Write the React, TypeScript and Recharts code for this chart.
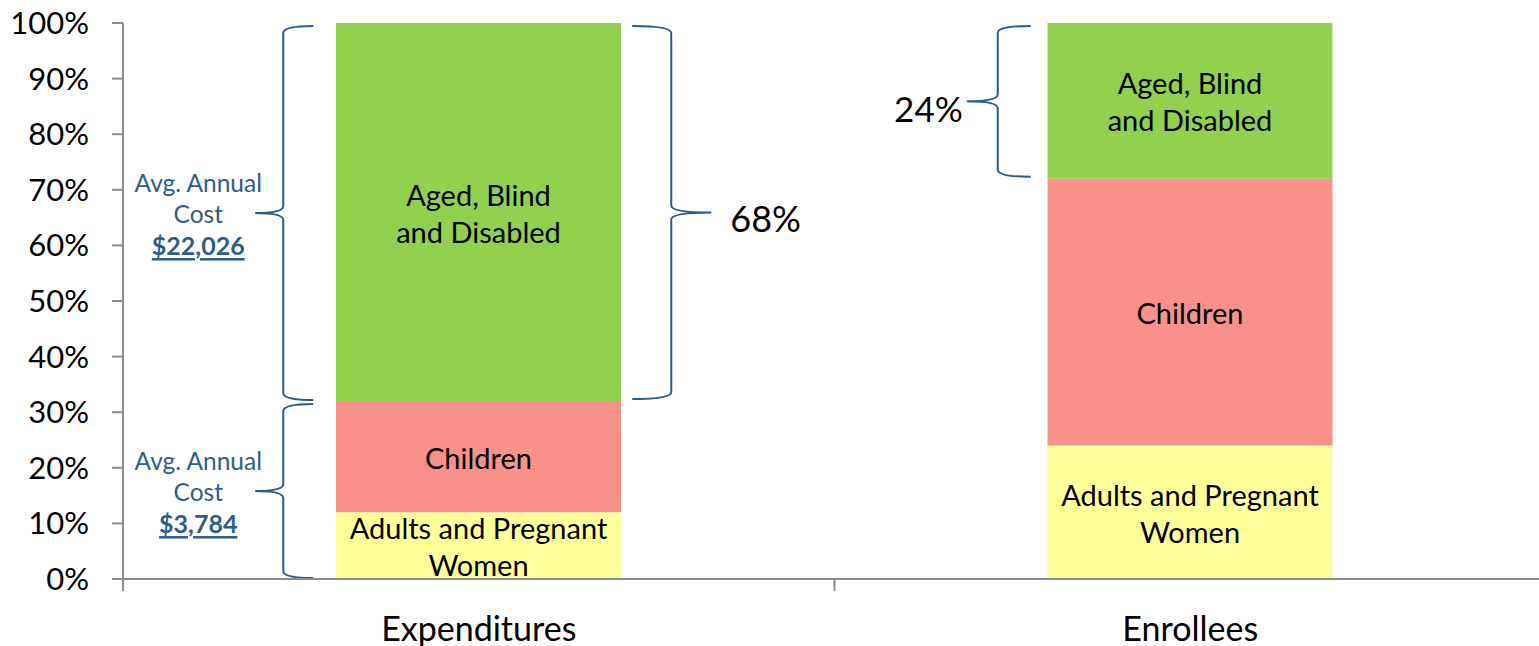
import React from "react";
import { BarChart, Bar, XAxis, YAxis, LabelList, ReferenceArea } from "recharts";

// Share of spending vs. share of enrollment, by eligibility group (percent)
const categories = ["Expenditures", "Enrollees"];
const adultsShare = [12, 24];
const childrenShare = [20, 48];
const agedBlindDisabledShare = [68, 28];
const percentTicks = [0, 10, 20, 30, 40, 50, 60, 70, 80, 90, 100];

// Text written inside each stacked segment
const adultsLabel = ["Adults and Pregnant", "Women"];
const childrenLabel = ["Children"];
const agedBlindDisabledLabel = ["Aged, Blind", "and Disabled"];

// Average annual cost brackets on the expenditures bar
const costCategory = "Expenditures";
const costRangesFrom = [32, 0];
const costRangesTo = [100, 32];
const costValues = ["$22,026", "$3,784"];

// Share brackets around the aged, blind and disabled segments
const shareCategories = ["Expenditures", "Enrollees"];
const shareFrom = [32, 72];
const shareTo = [100, 100];
const shareLabels = ["68%", "24%"];
const shareSides = ["right", "left"];

const data = categories.map((category, i) => ({
  category,
  adults: adultsShare[i],
  children: childrenShare[i],
  abd: agedBlindDisabledShare[i],
}));

const FONT = "Lato, 'Open Sans', 'DejaVu Sans', sans-serif";
const AXIS = "#8c8c8c";
const BRACE = "#2a5b8f";
const NOTE = "#2d5d8f";
const BAR_SIZE = 285;

const bracePath = (xe: number, xs: number, xt: number, yt: number, yb: number) => {
  const ym = (yt + yb) / 2;
  const r = 7;
  return `M${xe},${yt} Q${xs},${yt} ${xs},${yt + r} L${xs},${ym - r} Q${xs},${ym} ${xt},${ym} Q${xs},${ym} ${xs},${ym + r} L${xs},${yb - r} Q${xs},${yb} ${xe},${yb}`;
};

const segmentLabel = (lines: string[]) => (props: any) => {
  const x = Number(props.x);
  const y = Number(props.y);
  const w = Number(props.width);
  const h = Number(props.height);
  const cx = x + w / 2;
  const cy = y + h / 2;
  const lh = 37;
  const start = cy - ((lines.length - 1) * lh) / 2;
  return (
    <text
      x={cx}
      textAnchor="middle"
      dominantBaseline="central"
      fontFamily={FONT}
      fontSize={29}
      fill="#000"
    >
      {lines.map((line, i) => (
        <tspan key={i} x={cx} y={start + i * lh}>
          {line}
        </tspan>
      ))}
    </text>
  );
};

const costBrace = (cost: string) => (props: any) => {
  const x = Number(props.x);
  const y = Number(props.y);
  const w = Number(props.width);
  const h = Number(props.height);
  const cx = x + w / 2;
  const xe = cx - BAR_SIZE / 2 - 23;
  const xs = xe - 30;
  const xt = xs - 28;
  const yt = y + 3;
  const yb = y + h - 1;
  const ym = (yt + yb) / 2;
  const tx = xt - 57;
  return (
    <g>
      <path d={bracePath(xe, xs, xt, yt, yb)} fill="none" stroke={BRACE} strokeWidth={2} />
      <text
        x={tx}
        textAnchor="middle"
        dominantBaseline="central"
        fontFamily={FONT}
        fontSize={24.5}
        fill={NOTE}
      >
        <tspan x={tx} y={ym - 31}>Avg. Annual</tspan>
        <tspan x={tx} y={ym}>Cost</tspan>
        <tspan
          x={tx}
          y={ym + 32}
          fontWeight={700}
          fontSize={25}
          style={{ textDecoration: "underline" }}
        >
          {cost}
        </tspan>
      </text>
    </g>
  );
};

const shareBrace = (label: string, side: string) => (props: any) => {
  const x = Number(props.x);
  const y = Number(props.y);
  const w = Number(props.width);
  const h = Number(props.height);
  const cx = x + w / 2;
  const yt = y + 3;
  const yb = y + h - 2;
  const ym = (yt + yb) / 2;
  if (side === "right") {
    const xe = cx + BAR_SIZE / 2 + 11;
    const xs = xe + 39;
    const xt = xs + 40;
    return (
      <g>
        <path d={bracePath(xe, xs, xt, yt, yb)} fill="none" stroke={BRACE} strokeWidth={2} />
        <text x={xt + 19} y={ym + 5} dominantBaseline="central" fontFamily={FONT} fontSize={36} fill="#000">
          {label}
        </text>
      </g>
    );
  }
  const xe = cx - BAR_SIZE / 2 - 17;
  const xs = xe - 33;
  const xt = xs - 31;
  return (
    <g>
      <path d={bracePath(xe, xs, xt, yt, yb)} fill="none" stroke={BRACE} strokeWidth={2} />
      <text
        x={xt - 4}
        y={ym + 7}
        textAnchor="end"
        dominantBaseline="central"
        fontFamily={FONT}
        fontSize={35}
        fill="#000"
      >
        {label}
      </text>
    </g>
  );
};

const CategoryTick = (props: any) => {
  const { x, y, payload } = props;
  const half = Number(payload?.offset ?? 0);
  return (
    <g>
      <line x1={x - half} x2={x - half} y1={y - 12} y2={y} stroke={AXIS} strokeWidth={2} />
      <text
        x={x}
        y={y + 36}
        textAnchor="middle"
        dominantBaseline="central"
        fontFamily={FONT}
        fontSize={34}
        fill="#000"
      >
        {payload.value}
      </text>
    </g>
  );
};

export default function App() {
  return (
    <div
      style={{
        position: "absolute",
        left: 0,
        top: 0,
        width: 1539,
        height: 646,
        overflow: "hidden",
        background: "#fff",
      }}
    >
      <BarChart
        width={1546}
        height={646}
        data={data}
        margin={{ top: 23, right: 0, bottom: 0, left: 0 }}
      >
        <XAxis
          dataKey="category"
          type="category"
          height={67}
          interval={0}
          tickLine={false}
          tickSize={12}
          tickMargin={0}
          axisLine={{ stroke: AXIS, strokeWidth: 2 }}
          tick={<CategoryTick />}
        />
        <YAxis
          type="number"
          domain={[0, 100]}
          ticks={percentTicks}
          interval={0}
          width={123}
          tickSize={11}
          tickMargin={23}
          tickFormatter={(v: number) => `${v}%`}
          tick={{ fill: "#000", fontSize: 31, fontFamily: FONT }}
          tickLine={{ stroke: AXIS, strokeWidth: 2 }}
          axisLine={{ stroke: AXIS, strokeWidth: 2 }}
        />
        <Bar dataKey="adults" stackId="share" fill="#ffff99" barSize={BAR_SIZE} isAnimationActive={false}>
          <LabelList dataKey="adults" content={segmentLabel(adultsLabel)} />
        </Bar>
        <Bar dataKey="children" stackId="share" fill="#f79189" barSize={BAR_SIZE} isAnimationActive={false}>
          <LabelList dataKey="children" content={segmentLabel(childrenLabel)} />
        </Bar>
        <Bar dataKey="abd" stackId="share" fill="#92d050" barSize={BAR_SIZE} isAnimationActive={false}>
          <LabelList dataKey="abd" content={segmentLabel(agedBlindDisabledLabel)} />
        </Bar>
        {costValues.map((cost, i) => (
          <ReferenceArea
            key={`cost-${i}`}
            x1={costCategory}
            x2={costCategory}
            y1={costRangesFrom[i]}
            y2={costRangesTo[i]}
            ifOverflow="visible"
            shape={costBrace(cost)}
          />
        ))}
        {shareLabels.map((label, i) => (
          <ReferenceArea
            key={`share-${i}`}
            x1={shareCategories[i]}
            x2={shareCategories[i]}
            y1={shareFrom[i]}
            y2={shareTo[i]}
            ifOverflow="visible"
            shape={shareBrace(label, shareSides[i])}
          />
        ))}
      </BarChart>
    </div>
  );
}
